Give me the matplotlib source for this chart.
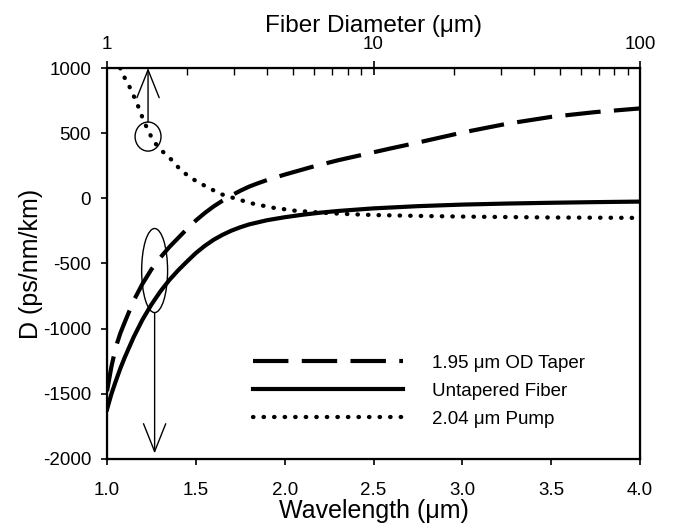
import matplotlib
matplotlib.use('Agg')
from matplotlib import pyplot as plt
from matplotlib.patches import Ellipse

plt.rcParams['font.family'] = ['Liberation Sans', 'DejaVu Sans']
plt.rcParams['axes.unicode_minus'] = False

# 1.95 um OD taper, D vs wavelength
taper_wl = [1.0, 1.025, 1.05, 1.075, 1.1, 1.15, 1.2, 1.25, 1.3, 1.35, 1.4, 1.45, 1.5, 1.55, 1.6, 1.65,
            1.7, 1.75, 1.8, 1.85, 1.9, 2.0, 2.15, 2.3, 2.45, 2.6, 2.75, 3.0, 3.25, 3.5, 3.75, 4.0]
taper_d = [-1480, -1290, -1140, -1035, -950, -785, -655, -545, -455, -375, -305, -235, -170, -113, -62, -18,
           22, 58, 90, 116, 140, 182, 240, 292, 338, 384, 428, 505, 572, 625, 662, 690]

# untapered fiber, D vs wavelength
fiber_wl = [1.0, 1.025, 1.05, 1.075, 1.1, 1.15, 1.2, 1.25, 1.3, 1.35, 1.4, 1.45, 1.5, 1.55, 1.6, 1.65,
            1.7, 1.75, 1.8, 1.9, 2.0, 2.1, 2.2, 2.3, 2.5, 2.75, 3.0, 3.25, 3.5, 3.75, 4.0]
fiber_d = [-1620, -1500, -1400, -1305, -1220, -1065, -930, -815, -715, -628, -553, -485, -420, -365, -318, -280,
           -248, -222, -200, -168, -145, -126, -110, -97, -77, -60, -48, -40, -34, -29, -25]

# 2.04 um pump, D vs fiber diameter (top axis)
pump_dia = [1.12, 1.17, 1.23, 1.28, 1.33, 1.37, 1.43, 1.49, 1.61, 1.75, 1.89, 2.07, 2.28, 2.49,
            2.71, 2.97, 3.24, 3.55, 3.88, 4.23, 4.61, 5.03, 6.0, 7.0, 8.5, 10.0, 15.0, 21.5, 46.4, 100.0]
pump_d = [1000, 917, 835, 752, 673, 596, 519, 440, 363, 294, 217, 155, 106, 65,
          29, 4, -19, -42, -58, -73, -83, -94, -106, -115, -123, -128, -135, -140, -147, -150]

fig = plt.figure(figsize=(6.73, 5.26), dpi=100)
ax = fig.add_axes([0.159, 0.1274, 0.792, 0.7433])

l1, = ax.plot(taper_wl, taper_d, c='black', lw=3, dashes=(8.5, 3.2), solid_capstyle='butt')
l2, = ax.plot(fiber_wl, fiber_d, c='black', lw=3)
ax.set_xlim(1.0, 4.0)
ax.set_ylim(-2000, 1000)
ax.set_xticks([1.0, 1.5, 2.0, 2.5, 3.0, 3.5, 4.0])
ax.set_xticklabels(['1.0', '1.5', '2.0', '2.5', '3.0', '3.5', '4.0'])
ax.set_yticks([1000, 500, 0, -500, -1000, -1500, -2000])
ax.tick_params(axis='both', which='major', labelsize=13.5, direction='out', length=4.5, width=1.2)
ax.tick_params(axis='x', pad=12)
ax.tick_params(axis='y', pad=7)
ax.tick_params(axis='x', top=False)
ax.set_xlabel('Wavelength (μm)', fontsize=18, labelpad=0)
ax.set_ylabel('D (ps/nm/km)', fontsize=18, labelpad=0)
for s in ax.spines.values():
    s.set_linewidth(1.6)

ax2 = ax.twiny()
ax2.set_xscale('log')
ax2.set_xlim(1, 100)
l3, = ax2.plot(pump_dia, pump_d, c='black', lw=3.1, linestyle=(0, (0.1, 2.35)), dash_capstyle='round')
ax2.set_xticks([1, 10, 100])
ax2.set_xticklabels(['1', '10', '100'])
ax2.tick_params(axis='x', which='major', labelsize=13.5, direction='inout', length=10, width=1.2, pad=6)
ax2.tick_params(axis='x', which='minor', direction='in', length=5, width=1)
ax2.set_xlabel('Fiber Diameter (μm)', fontsize=17.5, labelpad=3)

# circles and arrows
ax.add_patch(Ellipse((1.231, 474), 0.146, 223, fill=False, lw=1, ec='black'))
ax.annotate('', xy=(1.231, 1000), xytext=(1.231, 585),
            arrowprops=dict(arrowstyle='->, head_length=1.0, head_width=0.4', lw=1, color='black',
                            shrinkA=0, shrinkB=0, mutation_scale=20))
ax.add_patch(Ellipse((1.268, -554), 0.146, 645, fill=False, lw=1, ec='black'))
ax.annotate('', xy=(1.268, -1957), xytext=(1.268, -877),
            arrowprops=dict(arrowstyle='->, head_length=1.0, head_width=0.4', lw=1, color='black',
                            shrinkA=0, shrinkB=0, mutation_scale=20))

ax.legend([l1, l2, l3], ['1.95 μm OD Taper', 'Untapered Fiber', '2.04 μm Pump'],
          loc='upper left', bbox_to_anchor=(0.274, 0.267), frameon=False, fontsize=13.5,
          handlelength=8.0, handletextpad=1.53, labelspacing=0.58, borderpad=0, borderaxespad=0)

fig.savefig('out.png', dpi=100)
